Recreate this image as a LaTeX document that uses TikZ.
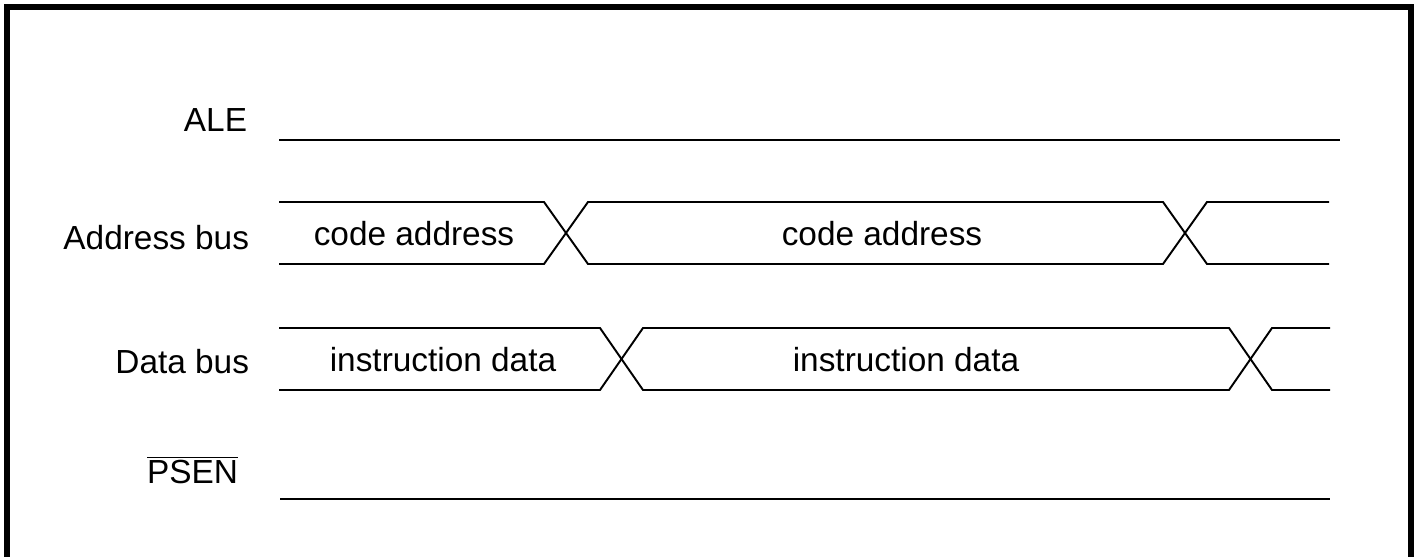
\documentclass[tikz,border=0pt]{standalone}
\usepackage{fontspec}
\setmainfont{Liberation Sans}
\usepackage{tikz}
\usetikzlibrary{positioning}

\begin{document}
\begin{tikzpicture}
	[x=0.02cm, y=-0.02cm, line width=1.1pt,
	 signame/.style = {anchor=base east, inner sep=0pt, font=\fontsize{19}{23}\selectfont},
	 busname/.style = {anchor=base, font=\fontsize{19}{23}\selectfont},
	 frame/.style = {line width=0.12cm}]
	\useasboundingbox (0,0) rectangle (1418,557);
	\draw[frame] (7,580) -- (7,7) -- (1411,7) -- (1411,580);
	\node[signame] (ale) at (248,132) {ALE};
	\node[signame] (addr) at (250,250) {Address bus};
	\node[signame] (data) at (250,374) {Data bus};
	\node[signame] (psen) at (239,483) {$\overline{\hbox{PSEN}}$};
	\draw (279,140) -- (1340,140);
	\draw (279,202) -- (544,202) -- (588,264) -- (1163,264) -- (1207,202) -- (1329,202);
	\draw (279,264) -- (544,264) -- (588,202) -- (1163,202) -- (1207,264) -- (1329,264);
	\node[busname] (ca1) at (414,246) {code address};
	\node[busname] (ca2) at (882,246) {code address};
	\draw (279,328) -- (600,328) -- (643,390) -- (1229,390) -- (1272,328) -- (1330,328);
	\draw (279,390) -- (600,390) -- (643,328) -- (1229,328) -- (1272,390) -- (1330,390);
	\node[busname] (id1) at (443,372) {instruction data};
	\node[busname] (id2) at (906,372) {instruction data};
	\draw (280,499) -- (1330,499);
\end{tikzpicture}
\end{document}
